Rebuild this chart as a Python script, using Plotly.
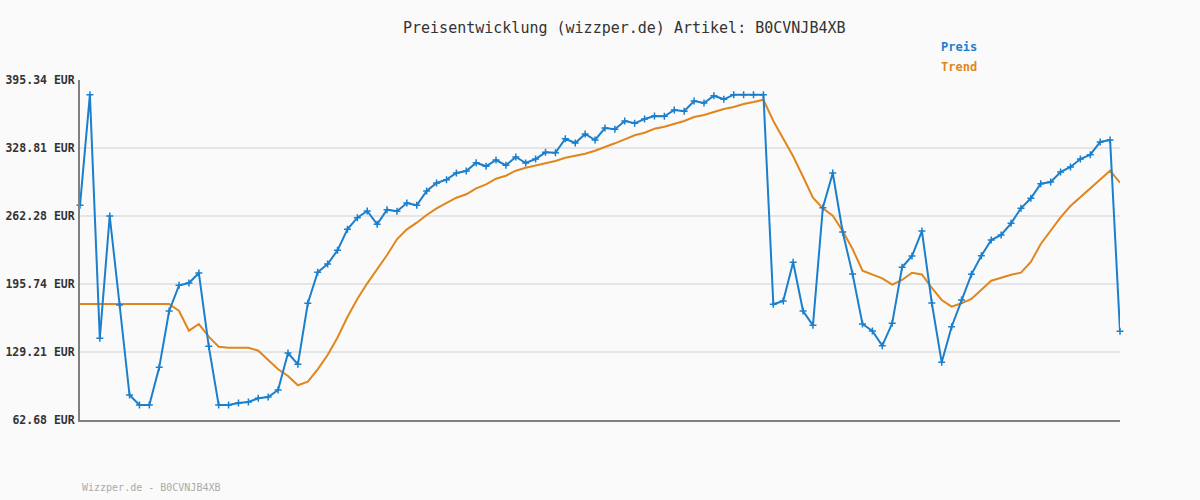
import plotly.graph_objects as go

title_text = "Preisentwicklung (wizzper.de) Artikel: B0CVNJB4XB"
footer_text = "Wizzper.de - B0CVNJB4XB"

y_ticks = [62.68, 129.21, 195.74, 262.28, 328.81, 395.34]
y_tick_labels = ["62.68 EUR", "129.21 EUR", "195.74 EUR", "262.28 EUR", "328.81 EUR", "395.34 EUR"]

preis = [
    272.74, 380.95, 142.61, 262.27, 175.19, 87.14, 77.36, 77.36, 114.24, 169.32,
    194.47, 196.72, 206.50, 134.79, 77.36, 77.36, 79.31, 80.29, 83.91, 85.18,
    92.03, 128.23, 117.18, 176.86, 207.19, 215.31, 228.71, 249.26, 260.61, 267.16,
    254.15, 268.43, 266.87, 274.99, 272.74, 286.73, 294.56, 297.79, 304.34, 306.30,
    314.42, 310.90, 317.06, 311.87, 319.99, 314.12, 318.04, 324.59, 324.20, 337.90,
    333.69, 342.50, 336.63, 348.37, 347.10, 355.22, 352.96, 357.17, 360.11, 359.81,
    365.98, 364.71, 374.78, 372.83, 379.97, 376.45, 380.95, 380.95, 380.95, 380.95,
    175.88, 179.11, 216.97, 169.32, 155.33, 270.39, 304.34, 246.62, 205.52, 156.60,
    149.76, 135.37, 157.29, 212.08, 223.13, 247.59, 177.15, 119.13, 153.96, 180.09,
    205.23, 223.43, 238.79, 243.68, 255.13, 269.80, 279.59, 293.87, 295.53, 305.32,
    310.21, 318.04, 322.24, 334.67, 336.63, 149.46,
]

trend = [
    176.17, 176.17, 176.17, 176.17, 176.17, 176.17, 176.17, 176.17, 176.17, 176.17,
    169.32, 150.05, 156.60, 144.18, 134.40, 133.42, 133.42, 133.42, 130.48, 121.38,
    112.28, 105.73, 96.63, 100.15, 112.28, 126.27, 143.40, 163.45, 181.06, 196.42,
    210.12, 224.11, 239.47, 249.26, 255.72, 263.25, 269.80, 275.28, 280.18, 283.50,
    289.37, 293.28, 298.77, 301.70, 306.59, 309.53, 311.48, 314.12, 316.08, 319.31,
    321.46, 323.22, 326.16, 329.49, 333.40, 337.31, 341.23, 343.77, 347.68, 349.64,
    352.28, 355.22, 359.13, 361.09, 364.02, 366.96, 368.91, 371.85, 373.81, 376.05,
    355.22, 338.29, 320.68, 300.72, 280.18, 269.80, 262.47, 247.59, 229.98, 208.75,
    205.23, 201.32, 195.06, 199.65, 206.80, 205.04, 191.83, 180.09, 173.53, 176.86,
    181.06, 189.87, 198.97, 201.91, 204.84, 206.80, 217.26, 234.88, 248.57, 261.00,
    272.05, 280.56, 289.37, 298.17, 306.59, 294.85,
]

x_idx = list(range(len(preis)))

BLUE = "#1a7fcc"
ORANGE = "#e0861c"
FONT = "DejaVu Sans Mono"

fig = go.Figure()
fig.add_trace(go.Scatter(
    x=x_idx, y=trend, mode="lines", name="Trend",
    line=dict(color=ORANGE, width=2), cliponaxis=False, hoverinfo="skip",
))
fig.add_trace(go.Scatter(
    x=x_idx, y=preis, mode="lines+markers", name="Preis",
    line=dict(color=BLUE, width=2),
    marker=dict(symbol="cross-thin", size=5, line=dict(color=BLUE, width=1.5), color=BLUE),
    cliponaxis=False,
))

fig.update_layout(
    width=1200, height=500,
    margin=dict(l=80, r=80, t=80, b=80, autoexpand=False),
    paper_bgcolor="#fafafa", plot_bgcolor="#fafafa",
    showlegend=False,
    font=dict(family=FONT, color="#333333"),
    xaxis=dict(
        range=[0, len(preis) - 1], showgrid=False, zeroline=False,
        showticklabels=False, ticks="", automargin=False,
        showline=True, linecolor="#808080", linewidth=2,
    ),
    yaxis=dict(
        range=[y_ticks[0], y_ticks[-1]], tickvals=y_ticks, ticktext=y_tick_labels,
        showgrid=True, gridcolor="#e5e5e5", gridwidth=2, zeroline=False,
        showline=True, linecolor="#808080", linewidth=2, automargin=False,
        tickfont=dict(family=FONT, size=11.5, color="#333333", weight="bold"),
        ticks="", ticklabelstandoff=1,
    ),
    annotations=[
        dict(text=title_text, x=624, y=28, showarrow=False,
             font=dict(family=FONT, size=15, color="#333333")),
        dict(text="<b>Preis</b>", x=939, y=47, xanchor="left", showarrow=False,
             font=dict(family=FONT, size=12, color=BLUE)),
        dict(text="<b>Trend</b>", x=939, y=67, xanchor="left", showarrow=False,
             font=dict(family=FONT, size=12, color=ORANGE)),
        dict(text=footer_text, x=80, y=487, xanchor="left", showarrow=False,
             font=dict(family=FONT, size=10, color="#aaaaaa")),
    ],
)

# convert annotation pixel positions to paper coordinates
pw, ph = 1200 - 160, 500 - 160
for a in fig.layout.annotations:
    a.xref = "paper"
    a.yref = "paper"
    a.x = (a.x - 80) / pw
    a.y = (420 - a.y) / ph
    a.yanchor = "middle"

fig.write_html(
    "out.html",
    config={"displayModeBar": False},
    post_script="document.body.style.margin='0';document.body.style.background='#fafafa';",
)
